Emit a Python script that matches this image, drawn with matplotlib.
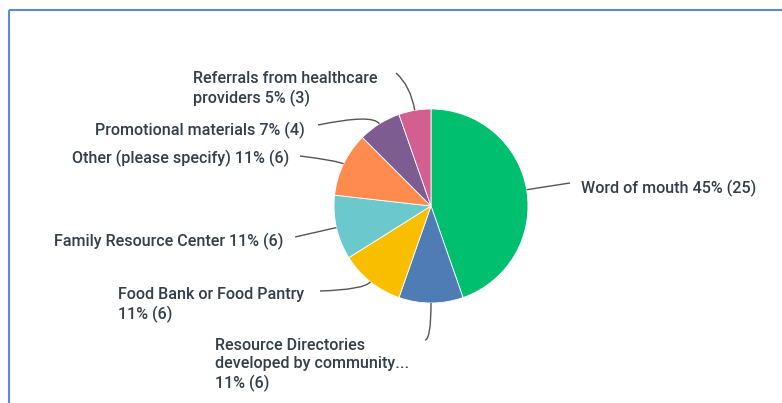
import numpy as np
import matplotlib.pyplot as plt
from matplotlib.path import Path
from matplotlib.patches import PathPatch

# data (clockwise from 12 o'clock)
labels = ["Word of mouth", "Resource Directories\ndeveloped by community...",
          "Food Bank or Food Pantry\n", "Family Resource Center",
          "Other (please specify)", "Promotional materials",
          "Referrals from healthcare\nproviders"]
counts = [25, 6, 6, 6, 6, 4, 3]
pcts = [45, 11, 11, 11, 11, 7, 5]
colors = ["#00bf6f", "#507cb6", "#f9be00", "#6bc8cd", "#ff8b4f", "#7d5c91", "#d25f90"]

# layout in pixel coords (y down)
cx, cy, r = 431, 206, 97
text_pos = [(581, 188, "left", "center"), (215, 338, "left", "top"),
            (118, 287, "left", "top"), (283, 241, "right", "center"),
            (289, 158, "right", "center"), (305, 130, "right", "center"),
            (193, 71, "left", "top")]
line_end = [(570, 183), (425, 340), (320, 291), (295, 237),
            (300, 156), (318, 125), (396, 73)]
bend = [10, 37, 10, 10, 8, 12, 25]

plt.rcParams['font.family'] = ['Roboto', 'DejaVu Sans']
fig = plt.figure(figsize=(7.82, 4.03), dpi=100)
ax = fig.add_axes([0, 0, 1, 1])
ax.set_xlim(0, 782)
ax.set_ylim(403, 0)
ax.set_aspect('equal')
ax.axis('off')

wedges, _ = ax.pie(counts, colors=colors, center=(cx, cy), radius=r,
                   startangle=-90, counterclock=True,
                   wedgeprops=dict(edgecolor='white', linewidth=0.6))
ax.set_xlim(0, 782)
ax.set_ylim(403, 0)

for w, lab, c, p, tp, le, k in zip(wedges, labels, counts, pcts, text_pos, line_end, bend):
    mid = np.deg2rad((w.theta1 + w.theta2) / 2)
    ux, uy = np.cos(mid), np.sin(mid)
    ex, ey = cx + r * ux, cy + r * uy
    ctrl = (ex + k * ux, ey + k * uy)
    path = Path([(ex, ey), ctrl, le], [Path.MOVETO, Path.CURVE3, Path.CURVE3])
    ax.add_patch(PathPatch(path, fill=False, edgecolor='#555555', lw=1.0))
    if lab.endswith("\n"):
        txt = f"{lab}{p}% ({c})"
    elif "\n" in lab and "community" in lab:
        txt = f"{lab}\n{p}% ({c})"
    else:
        txt = f"{lab} {p}% ({c})"
    ax.text(tp[0], tp[1], txt, ha=tp[2], va=tp[3], fontsize=11.6,
            fontweight='medium', color='#333e48', linespacing=1.27)

# frame
ax.plot([9, 9], [403, 10], color='#5b8bd0', lw=1.5, solid_capstyle='butt')
ax.plot([9, 782], [10, 10], color='#5b8bd0', lw=1.5, solid_capstyle='butt')

fig.savefig("out.png", dpi=100)
